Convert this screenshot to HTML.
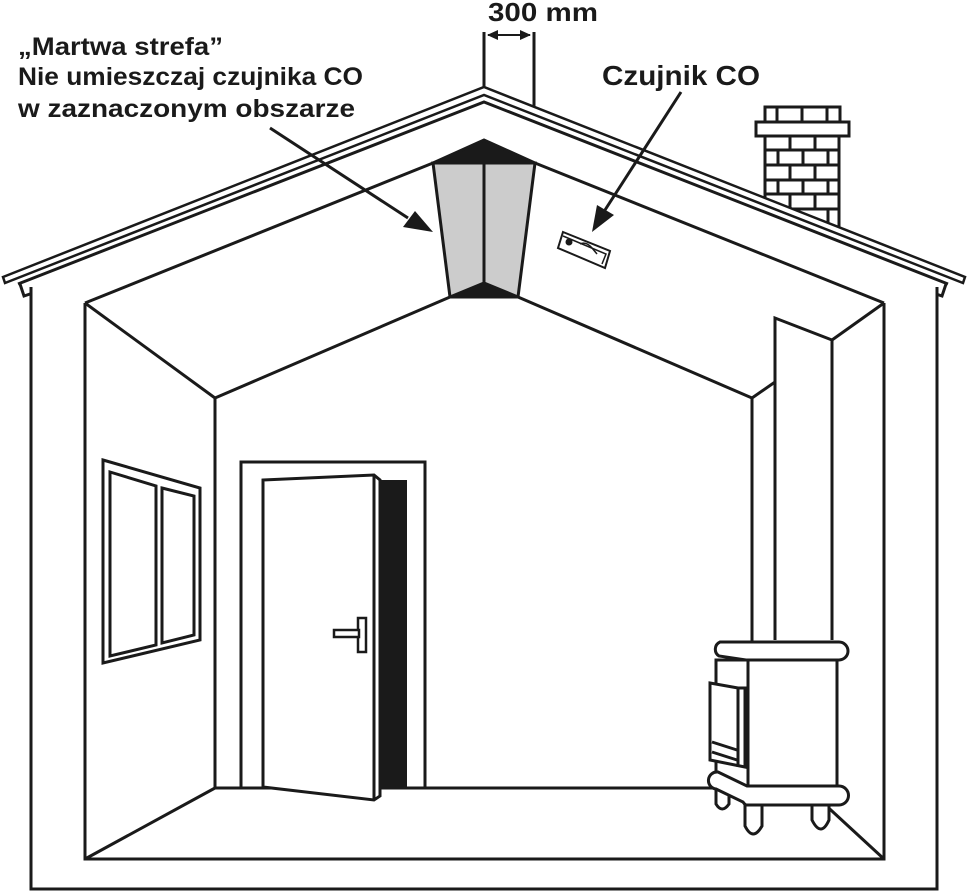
<!DOCTYPE html>
<html><head><meta charset="utf-8"><style>
html,body{margin:0;padding:0;background:#fff;}
svg{display:block;}
text{font-family:"Liberation Sans",sans-serif;font-weight:bold;fill:#1a1a1a;}
</style></head><body>
<svg width="968" height="893" viewBox="0 0 968 893" xmlns="http://www.w3.org/2000/svg">
<g fill="none" stroke="#1a1a1a" stroke-width="3" stroke-linejoin="miter">
<rect x="765" y="107" width="75" height="15" fill="#fff"/>
<line x1="777" y1="107" x2="777" y2="122"/><line x1="802" y1="107" x2="802" y2="122"/><line x1="827" y1="107" x2="827" y2="122"/>
<polygon points="765,136 839,136 839,228 765,199" fill="#fff"/>
<rect x="756" y="122" width="93" height="14" fill="#fff"/>
<g>
<line x1="765" y1="150" x2="839" y2="150"/><line x1="765" y1="165" x2="839" y2="165"/><line x1="765" y1="180" x2="839" y2="180"/><line x1="765" y1="194" x2="839" y2="194"/><line x1="782" y1="209" x2="839" y2="209"/>
<line x1="790" y1="136" x2="790" y2="150"/><line x1="815" y1="136" x2="815" y2="150"/>
<line x1="778" y1="150" x2="778" y2="165"/><line x1="803" y1="150" x2="803" y2="165"/><line x1="828" y1="150" x2="828" y2="165"/>
<line x1="790" y1="165" x2="790" y2="180"/><line x1="815" y1="165" x2="815" y2="180"/>
<line x1="778" y1="180" x2="778" y2="194"/><line x1="803" y1="180" x2="803" y2="194"/><line x1="828" y1="180" x2="828" y2="194"/>
<line x1="790" y1="194" x2="790" y2="209"/><line x1="815" y1="194" x2="815" y2="209"/>
<line x1="828" y1="209" x2="828" y2="225"/>
</g>
<polygon points="3,277 484,87 965,277 963,283 484,95 5,283" fill="#fff" stroke-width="2.5"/>
<polyline points="18,284 484,102 948,284"/>
<polyline points="20,284 24,296 30,294"/><polyline points="946,284 942,296 936,294"/>
<polyline points="31,287 31,889 937,889 937,287"/>
<polyline points="85,303 433,163"/><polyline points="535,163 884,303"/>
<polyline points="85,303 85,859 884,859 884,303"/>
<polyline points="215,398 450,297"/><polyline points="518,297 752,398"/>
<line x1="215" y1="398" x2="215" y2="788"/><line x1="752" y1="398" x2="752" y2="788"/>
<line x1="215" y1="788" x2="713" y2="788"/>
<line x1="85" y1="303" x2="215" y2="398"/><line x1="884" y1="303" x2="832" y2="340"/>
<line x1="85" y1="859" x2="215" y2="788"/><line x1="884" y1="859" x2="820" y2="800"/>
<line x1="752" y1="398" x2="775" y2="382"/>
<polyline points="775,640 775,318 832,340 832,640"/>
<polygon points="103,460 200,488 200,640 103,663"/>
<polygon points="110,472 156,486 156,645 110,656"/>
<polygon points="162,488 194,496 194,635 162,643"/>
<polyline points="241,787 241,462 425,462 425,787"/>
<rect x="380" y="480" width="27" height="307" fill="#1a1a1a" stroke="none"/>
<polygon points="263,480 374,475 380,480 380,796 374,800 263,787" fill="#fff"/>
<line x1="374" y1="475" x2="374" y2="800"/>
<rect x="358" y="618" width="8" height="34" fill="#fff" stroke-width="2.5"/>
<rect x="334" y="630" width="25" height="7" fill="#fff" stroke-width="2.5"/>
<rect x="716" y="660" width="32" height="130" fill="#fff"/>
<rect x="748" y="660" width="89" height="130" fill="#fff"/>
<polygon points="710,683 738,688 745,688 745,767 710,760" fill="#fff"/>
<line x1="738" y1="688" x2="738" y2="767"/>
<line x1="712" y1="742" x2="737" y2="750"/><line x1="712" y1="752" x2="737" y2="760"/>
<path d="M716,784 v20 q6,10 13,0 v-18" fill="#fff"/>
<path d="M745,800 v26 q8,16 17,0 v-26" fill="#fff"/>
<path d="M812,800 v20 q9,18 17,0 v-20" fill="#fff"/>
<path d="M720,642 h119 a9,9 0 0 1 0,18 h-93 l-27,-4 a8,8 0 0 1 1,-14z" fill="#fff"/>
<path d="M718,772 l29,14 h92 a9,9 0 0 1 0,19 h-93 a8,8 0 0 1 -3,-3 l-27,-13 a7,7 0 0 1 2,-17z" fill="#fff"/>
<polygon points="433,163 484,140 535,163" fill="#1a1a1a"/>
<polygon points="433,163 535,163 518,297 450,297" fill="#cccccc"/>
<polygon points="450,297 484,283 518,297" fill="#1a1a1a"/>
<line x1="484" y1="163" x2="484" y2="283"/>
<line x1="484" y1="32" x2="484" y2="88"/><line x1="534" y1="32" x2="534" y2="106"/>
<line x1="488" y1="35" x2="530" y2="35" stroke-width="2"/>
<line x1="270" y1="128" x2="408" y2="218"/>
<line x1="681" y1="92" x2="605" y2="210"/>
<polygon points="563,232 610,251 605,268 558,248" fill="#fff" stroke-width="2"/>
<polyline points="563,236 606,254 602,264" stroke-width="1.5"/>
<path d="M580,244 q6,-3 12,4 l5,6" stroke-width="1.5"/>
</g>
<polygon points="487,35 498,30 498,40" fill="#1a1a1a"/><polygon points="531,35 520,30 520,40" fill="#1a1a1a"/>
<polygon points="433,232 403,227 415,211" fill="#1a1a1a"/>
<polygon points="592,232 597,205 614,215" fill="#1a1a1a"/>
<circle cx="569" cy="242" r="3.5" fill="#1a1a1a"/>
<text x="488" y="21" font-size="26" textLength="110" lengthAdjust="spacingAndGlyphs">300 mm</text>
<text x="18" y="55" font-size="25" textLength="205" lengthAdjust="spacingAndGlyphs">„Martwa strefa”</text>
<text x="18" y="85" font-size="25" textLength="345" lengthAdjust="spacingAndGlyphs">Nie umieszczaj czujnika CO</text>
<text x="18" y="117" font-size="25" textLength="337" lengthAdjust="spacingAndGlyphs">w zaznaczonym obszarze</text>
<text x="602" y="85" font-size="28" textLength="158" lengthAdjust="spacingAndGlyphs">Czujnik CO</text>
</svg>
</body></html>
